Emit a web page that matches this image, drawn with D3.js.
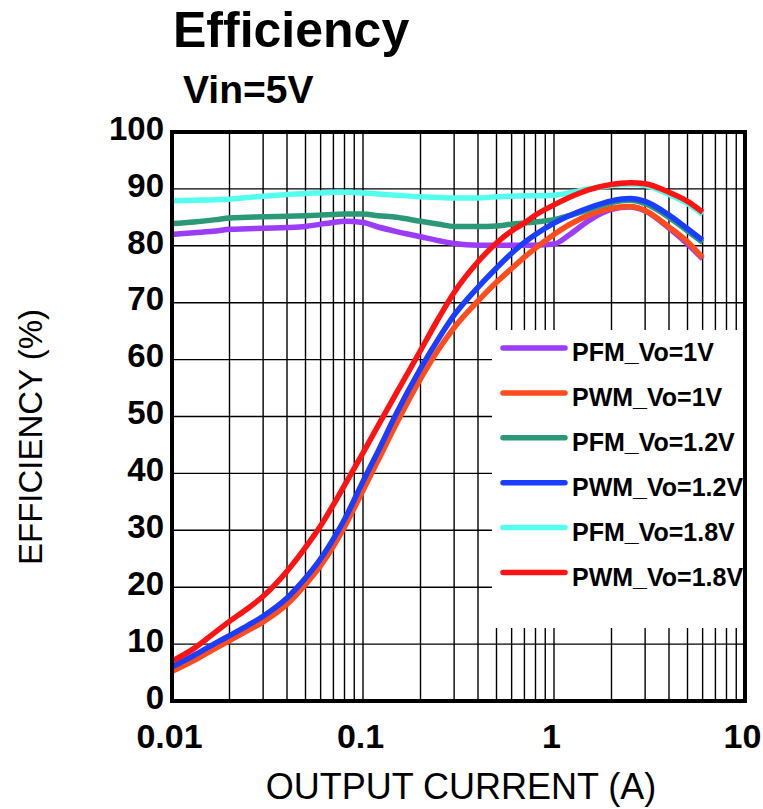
<!DOCTYPE html>
<html>
<head>
<meta charset="utf-8">
<script src="https://cdn.jsdelivr.net/npm/d3@7"></script>
<style>
  body { margin: 0; background: #fff; }
  svg { display: block; font-family: "Liberation Sans", Arial, sans-serif; }
</style>
</head>
<body>
<div id="chart"></div>
<script>
// output current (A), shared by every curve
var current = [0.01, 0.013, 0.017, 0.02, 0.025, 0.03, 0.04, 0.05, 0.06, 0.07, 0.08, 0.1, 0.12, 0.15,
               0.2, 0.25, 0.3, 0.4, 0.5, 0.6, 0.7, 0.8, 1, 1.2, 1.5, 2, 2.5, 3, 4, 5, 6];

// efficiency (%)
var pfm1v  = [82.0, 82.3, 82.6, 82.9, 83.0, 83.1, 83.2, 83.4, 83.8, 84.1, 84.3, 84.1, 83.3, 82.5,
              81.6, 80.9, 80.4, 80.1, 80.1, 80.1, 80.1, 80.1, 80.3, 81.9, 84.3, 86.4, 86.8, 86.1, 83.1, 80.3, 77.7];
var pwm1v  = [5.2, 7.1, 9.3, 10.6, 12.4, 13.9, 17.0, 20.5, 23.8, 27.2, 30.6, 37.0, 42.3, 48.8,
              56.6, 61.9, 65.6, 70.3, 73.6, 76.0, 78.0, 79.6, 82.0, 83.7, 85.3, 86.6, 86.9, 86.2, 83.3, 80.7, 77.9];
var pfm12v = [83.9, 84.2, 84.6, 84.9, 85.0, 85.1, 85.2, 85.3, 85.4, 85.5, 85.6, 85.6, 85.3, 85.0,
              84.3, 83.8, 83.4, 83.4, 83.5, 83.8, 84.0, 84.2, 84.6, 85.3, 86.3, 87.6, 88.0, 87.4, 85.0, 82.6, 80.6];
var pwm12v = [6.0, 8.0, 10.2, 11.5, 13.3, 14.9, 18.1, 21.6, 25.0, 28.5, 31.9, 38.6, 43.9, 50.6,
              58.4, 63.8, 67.8, 72.7, 76.1, 78.7, 80.6, 82.0, 84.0, 85.3, 86.6, 87.9, 88.3, 87.8, 85.4, 83.0, 81.0];
var pfm18v = [87.9, 88.0, 88.1, 88.2, 88.5, 88.7, 89.0, 89.2, 89.3, 89.4, 89.4, 89.3, 89.1, 88.9,
              88.6, 88.5, 88.4, 88.4, 88.6, 88.7, 88.8, 88.8, 88.9, 89.3, 90.0, 90.6, 90.8, 90.6, 89.0, 87.4, 85.5];
var pwm18v = [7.0, 9.2, 12.2, 14.0, 16.3, 18.4, 22.8, 27.0, 30.8, 34.5, 37.9, 43.6, 48.4, 54.2,
              61.6, 67.4, 71.8, 77.2, 80.5, 82.6, 84.0, 85.4, 87.2, 88.5, 89.8, 90.8, 91.1, 90.9, 89.4, 87.8, 85.9];

var seriesNames = ["PFM_Vo=1V", "PWM_Vo=1V", "PFM_Vo=1.2V", "PWM_Vo=1.2V", "PFM_Vo=1.8V", "PWM_Vo=1.8V"];
var seriesValues = [pfm1v, pwm1v, pfm12v, pwm12v, pfm18v, pwm18v];
var seriesColors = ["#9b3cf7", "#ff4c1c", "#2b9978", "#1b3dff", "#55fff0", "#ff1212"];

var yTicks = [0, 10, 20, 30, 40, 50, 60, 70, 80, 90, 100];
var xTicks = [0.01, 0.1, 1, 10];
var xTickLabels = ["0.01", "0.1", "1", "10"];

var width = 763,
    height = 809;

var svg = d3.select("#chart")
    .append("svg")
    .attr("width", width)
    .attr("height", height);

var x = d3.scaleLog().domain([0.01, 10]).range([172, 745]);
var y = d3.scaleLinear().domain([0, 100]).range([701, 132]);

/* grid */
var grid = svg.append("g");
grid.selectAll("line.v")
    .data(x.ticks().filter(function(d) { return d > 0.0100001 && d < 9.9999; }))
    .enter().append("line")
    .attr("x1", function(d) { return x(d); })
    .attr("x2", function(d) { return x(d); })
    .attr("y1", y(100))
    .attr("y2", y(0))
    .attr("stroke", "#000")
    .attr("stroke-width", 1.4);
grid.selectAll("line.h")
    .data(yTicks.filter(function(d) { return d > 0 && d < 100; }))
    .enter().append("line")
    .attr("x1", x(0.01))
    .attr("x2", x(10))
    .attr("y1", function(d) { return y(d); })
    .attr("y2", function(d) { return y(d); })
    .attr("stroke", "#000")
    .attr("stroke-width", 1.4);

/* legend background hides the grid */
svg.append("rect")
    .attr("x", 492).attr("y", 330)
    .attr("width", 253).attr("height", 298)
    .attr("fill", "#fff");

/* curves */
var line = d3.line()
    .x(function(d) { return x(d[0]); })
    .y(function(d) { return y(d[1]); })
    .curve(d3.curveMonotoneX);

svg.append("g")
    .selectAll("path")
    .data(seriesValues)
    .enter().append("path")
    .attr("d", function(vals) { return line(current.map(function(c, i) { return [c, vals[i]]; })); })
    .attr("fill", "none")
    .attr("stroke", function(d, i) { return seriesColors[i]; })
    .attr("stroke-width", 5.5)
    .attr("stroke-linejoin", "round");

/* frame */
svg.append("rect")
    .attr("x", x(0.01)).attr("y", y(100))
    .attr("width", x(10) - x(0.01)).attr("height", y(0) - y(100))
    .attr("fill", "none")
    .attr("stroke", "#000")
    .attr("stroke-width", 4);

/* axes */
var yAxis = svg.append("g")
    .attr("transform", "translate(" + x(0.01) + ",0)")
    .call(d3.axisLeft(y).tickValues(yTicks).tickSize(0).tickPadding(8));
yAxis.select(".domain").remove();
yAxis.selectAll("text")
    .attr("dy", "0.22em")
    .style("font-size", "33px")
    .style("font-weight", "bold")
    .attr("fill", "#000");

var xAxis = svg.append("g")
    .attr("transform", "translate(0," + y(0) + ")")
    .call(d3.axisBottom(x).tickValues(xTicks).tickFormat(function(d, i) { return xTickLabels[i]; })
        .tickSize(0).tickPadding(23));
xAxis.select(".domain").remove();
xAxis.selectAll("text")
    .attr("dx", "-3")
    .style("font-size", "34px")
    .style("font-weight", "bold")
    .attr("fill", "#000");

/* legend */
var legend = svg.append("g")
    .selectAll("g")
    .data(seriesNames)
    .enter().append("g")
    .attr("transform", function(d, i) { return "translate(503," + (348 + i * 44.9) + ")"; });
legend.append("line")
    .attr("x1", 0).attr("x2", 62)
    .attr("stroke", function(d, i) { return seriesColors[i]; })
    .attr("stroke-width", 5.5)
    .attr("stroke-linecap", "round");
legend.append("text")
    .attr("x", 69).attr("y", 13)
    .style("font-size", "25px")
    .style("font-weight", "bold")
    .text(function(d) { return d; });

/* titles */
svg.append("text")
    .attr("x", 173).attr("y", 47)
    .style("font-size", "50px").style("font-weight", "bold")
    .text("Efficiency");
svg.append("text")
    .attr("x", 183).attr("y", 103)
    .style("font-size", "39px").style("font-weight", "bold")
    .text("Vin=5V");
svg.append("text")
    .attr("x", 461).attr("y", 799)
    .attr("text-anchor", "middle")
    .style("font-size", "36px")
    .text("OUTPUT CURRENT (A)");
svg.append("text")
    .attr("transform", "translate(42,437) rotate(-90)")
    .attr("text-anchor", "middle")
    .style("font-size", "33px")
    .text("EFFICIENCY (%)");
</script>
</body>
</html>
